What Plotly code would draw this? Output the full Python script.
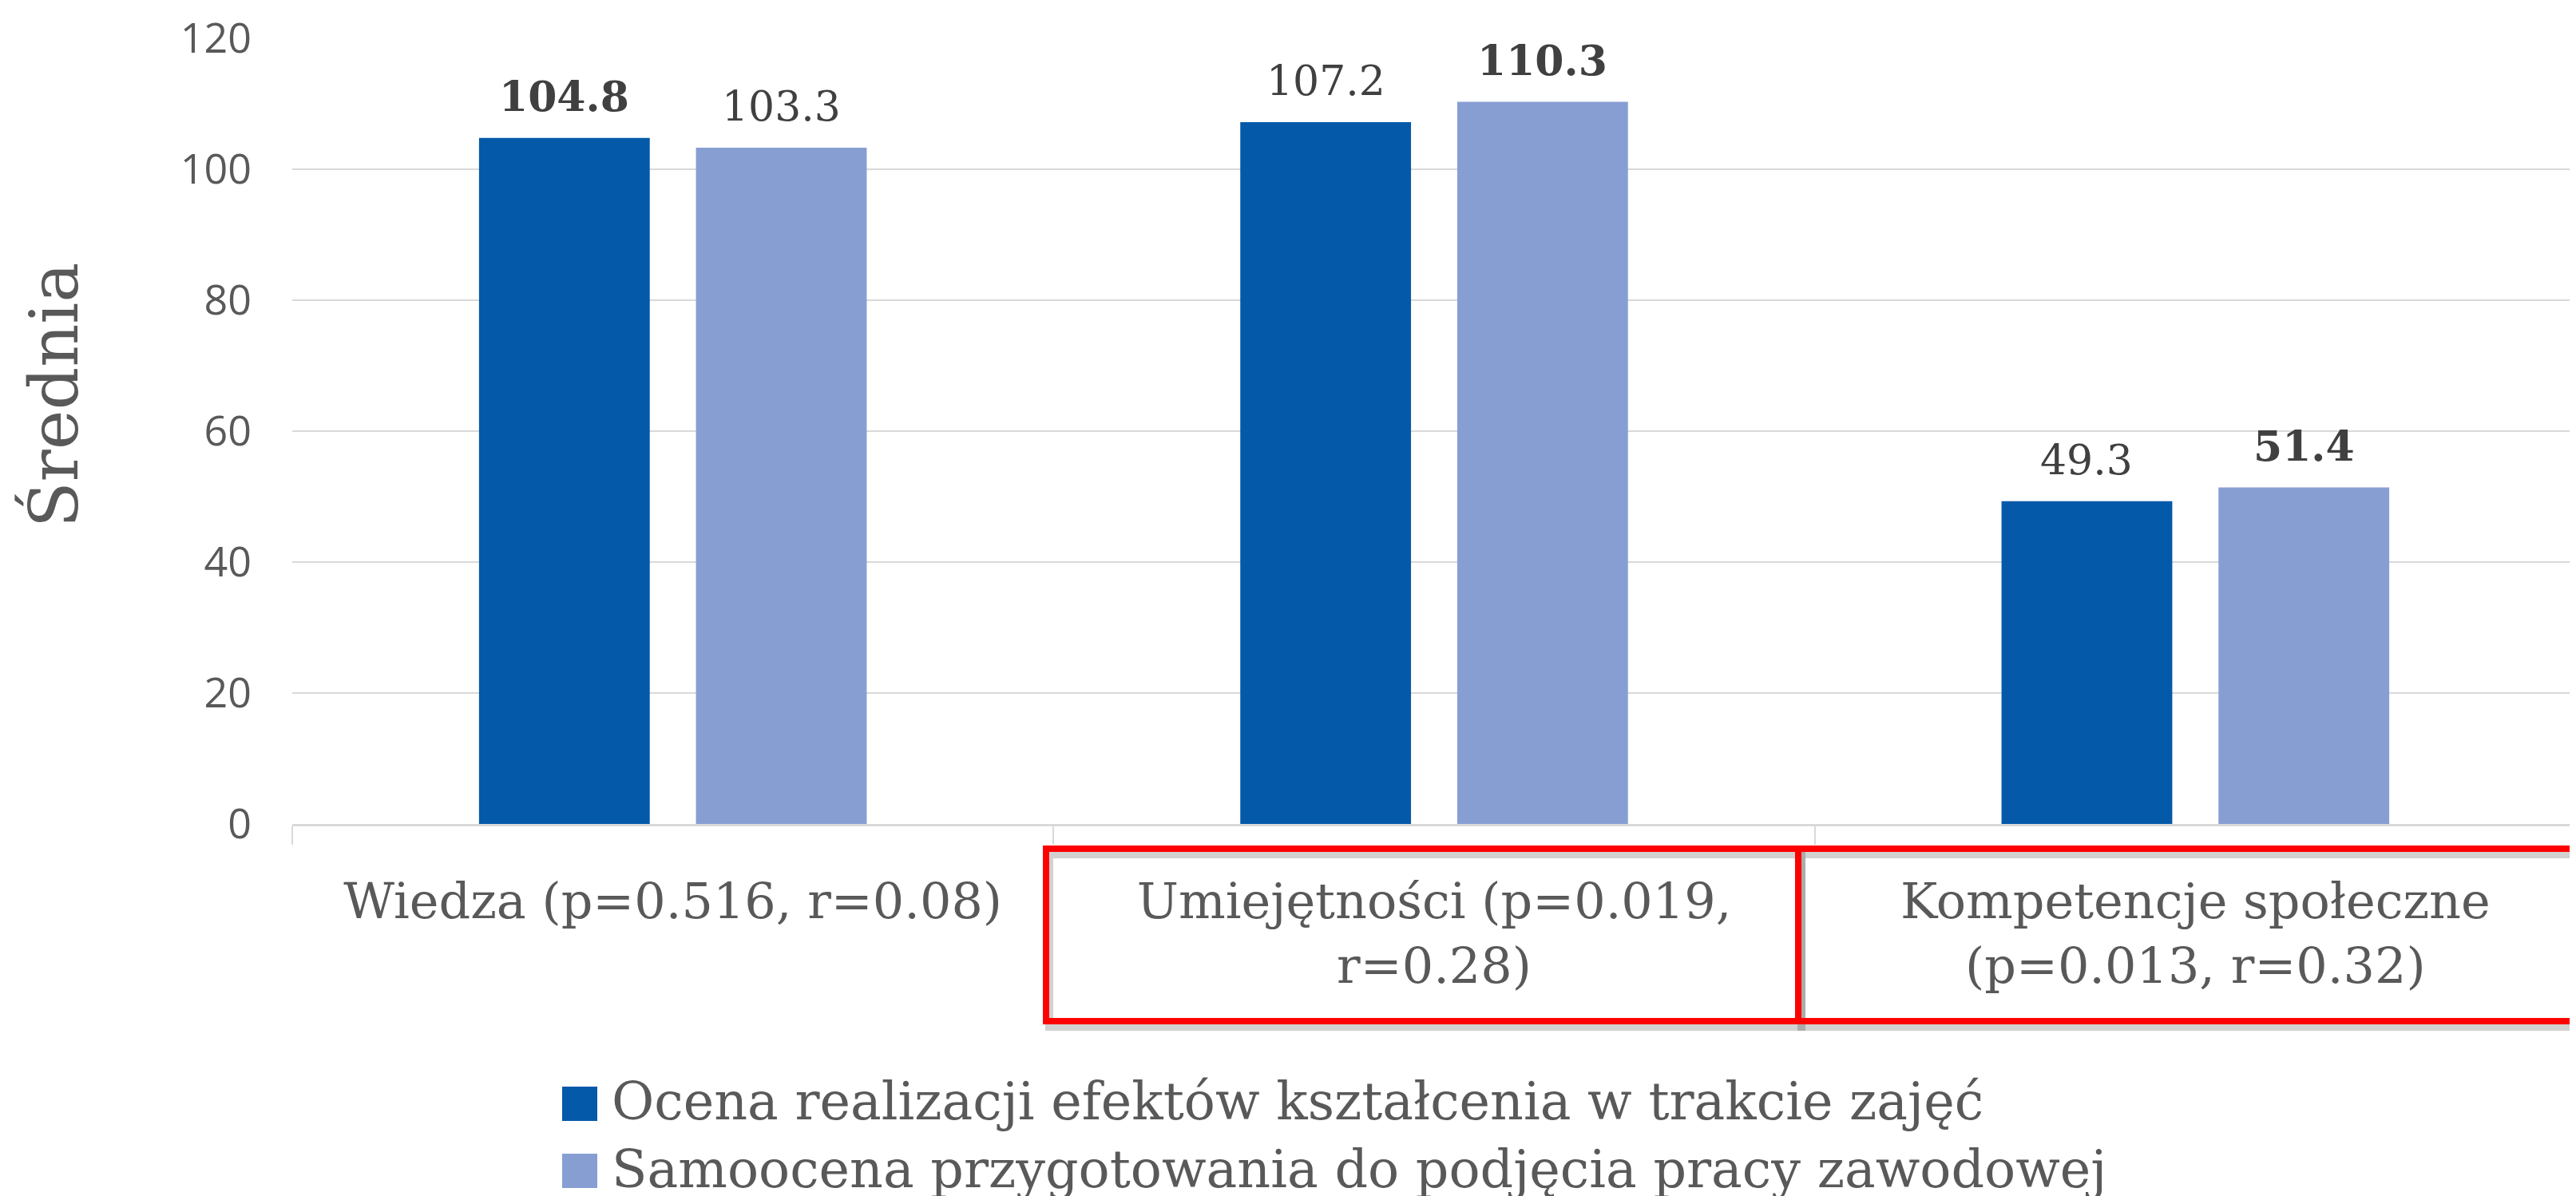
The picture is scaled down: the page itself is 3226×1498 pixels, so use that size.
import plotly.graph_objects as go

# ---- data ----
categories = [
    "Wiedza (p=0.516, r=0.08)",
    "Umiejętności (p=0.019,<br>r=0.28)",
    "Kompetencje społeczne<br>(p=0.013, r=0.32)",
]
series_names = [
    "Ocena realizacji efektów kształcenia w trakcie zajęć",
    "Samoocena przygotowania do podjęcia pracy zawodowej",
]
ocena = [104.8, 107.2, 49.3]
samoocena = [103.3, 110.3, 51.4]
y_ticks = [0, 20, 40, 60, 80, 100, 120]

# ---- style ----
OFF = 8  # page body margin offset
W, H = 3226 - OFF, 1498 - OFF
PLOT_L, PLOT_T, PLOT_B = 366, 48, 1032  # reference pixel positions
ML, MR, MT, MB = PLOT_L - OFF, 0, PLOT_T - OFF, H - (PLOT_B - OFF)
PW, PH = W - ML - MR, H - MT - MB
DARK = "#0559A9"
LIGHT = "#879ED3"
GRID = "#D9D9D9"
TXT = "#595959"
LBL = "#404040"
SERIF = "DejaVu Serif"
BARGAP, BARGROUPGAP = 0.43, 0.213


def px_x(px):
    return (px - PLOT_L) / PW


def px_y(py):
    return (PLOT_B - py) / PH


fig = go.Figure()
for name, vals, col in [(series_names[0], ocena, DARK), (series_names[1], samoocena, LIGHT)]:
    fig.add_trace(go.Bar(x=categories, y=vals, name=name, marker=dict(color=col, line=dict(width=0)),
                         showlegend=False))

# data labels (bold for the larger value in each category)
cat_px = PW / len(categories)
slot_px = cat_px * (1 - BARGAP) / 2
annotations = []
for i, cat in enumerate(categories):
    pair = [ocena[i], samoocena[i]]
    for j, v in enumerate(pair):
        bold = v == max(pair)
        txt = f"<b>{v:.1f}</b>" if bold else f"{v:.1f}"
        annotations.append(dict(
            x=cat, y=v, xref="x", yref="y", text=txt, showarrow=False,
            xshift=(j - 0.5) * slot_px, yshift=20, yanchor="bottom", xanchor="center",
            font=dict(family=SERIF, size=52, color=LBL)))

# y-axis title
annotations.append(dict(
    x=px_x(68), y=px_y(495), xref="paper", yref="paper", text="Średnia", textangle=-90,
    showarrow=False, xanchor="center", yanchor="middle",
    font=dict(family=SERIF, size=84, color=TXT)))

# manual legend
shapes = []
legend_rows = [(series_names[0], DARK, 1382), (series_names[1], LIGHT, 1466)]
for name, col, yc in legend_rows:
    shapes.append(dict(type="rect", xref="paper", yref="paper",
                       x0=px_x(704), x1=px_x(748), y0=px_y(yc - 21), y1=px_y(yc + 22),
                       fillcolor=col, line=dict(width=0)))
    annotations.append(dict(x=px_x(764), y=px_y(yc - 2), xref="paper", yref="paper", text=name,
                            showarrow=False, xanchor="left", yanchor="middle",
                            font=dict(family=SERIF, size=65, color=TXT)))

# red highlight boxes (with soft shadow)
boxes = [(1310, 2252), (2252, 3260)]
for x0, x1 in boxes:
    shapes.append(dict(type="rect", xref="paper", yref="paper",
                       x0=px_x(x0 + 4), x1=px_x(x1 + 4), y0=px_y(1279 + 7), y1=px_y(1063 + 7),
                       line=dict(color="rgba(0,0,0,0.18)", width=10), fillcolor="rgba(0,0,0,0)"))
for x0, x1 in boxes:
    shapes.append(dict(type="rect", xref="paper", yref="paper",
                       x0=px_x(x0), x1=px_x(x1), y0=px_y(1279), y1=px_y(1063),
                       line=dict(color="#FF0000", width=8), fillcolor="rgba(0,0,0,0)"))

fig.update_layout(
    width=W, height=H,
    margin=dict(l=ML, r=MR, t=MT, b=MB, pad=0),
    paper_bgcolor="white", plot_bgcolor="white",
    barmode="group", bargap=BARGAP, bargroupgap=BARGROUPGAP,
    annotations=annotations, shapes=shapes,
    showlegend=False,
    xaxis=dict(
        showline=True, linecolor=GRID, linewidth=3,
        ticks="outside", tickson="boundaries", ticklen=23, tickcolor=GRID, tickwidth=2,
        tickfont=dict(family=SERIF, size=62, color=TXT),
        ticklabelstandoff=41, showgrid=False,
    ),
    yaxis=dict(
        range=[0, 120], tickvals=y_ticks, showgrid=True, gridcolor=GRID, gridwidth=2,
        zeroline=False, showline=False, ticks="",
        tickfont=dict(family="Open Sans", size=52, color=TXT),
        ticklabelstandoff=50,
    ),
)

fig.write_html("out.html")
